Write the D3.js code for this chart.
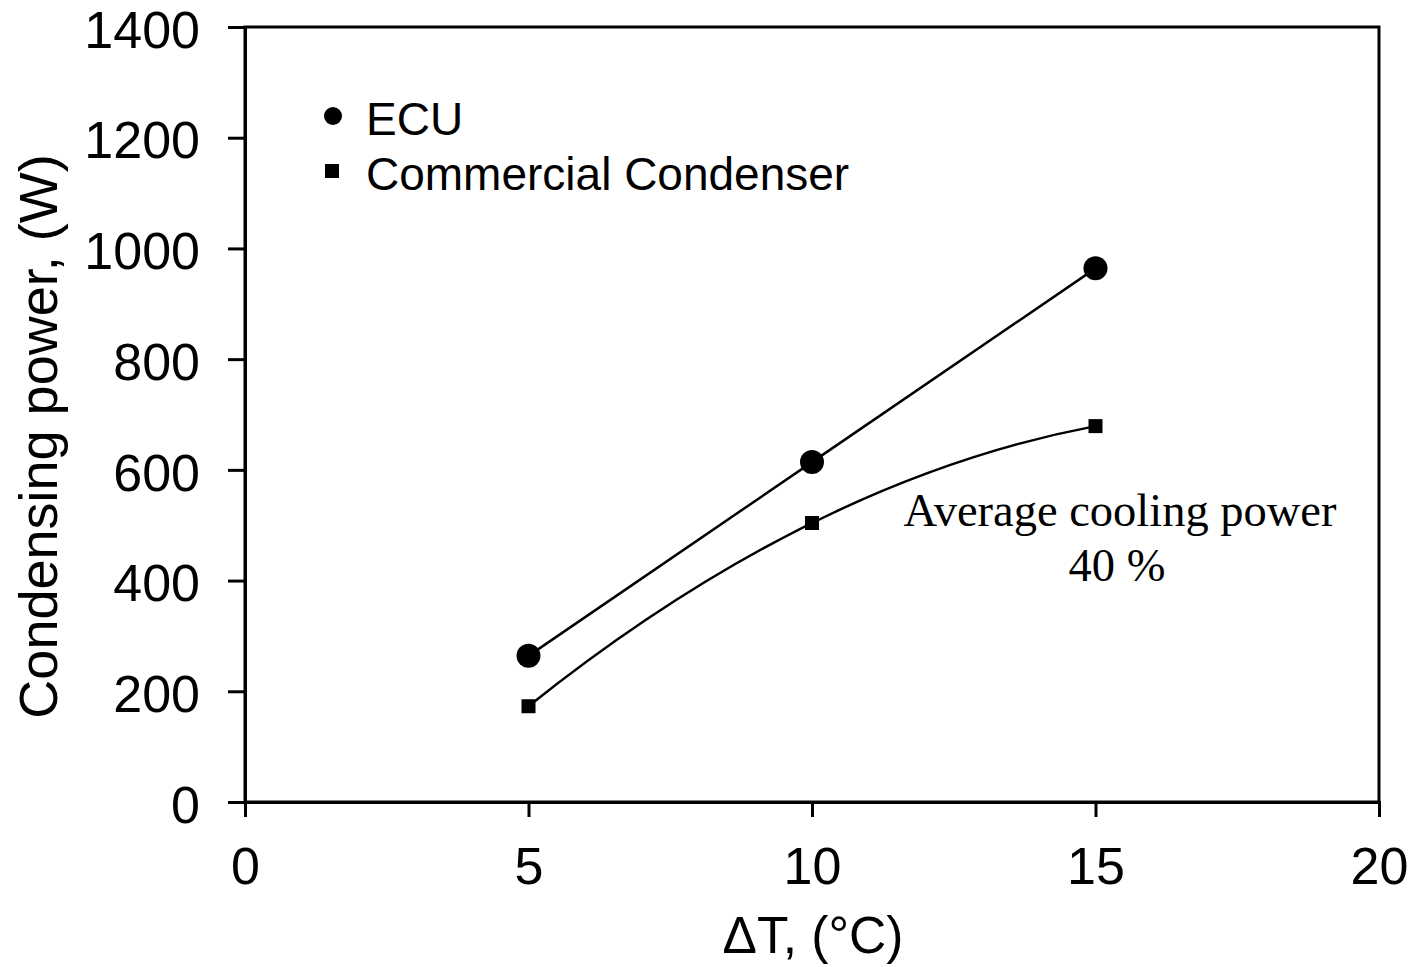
<!DOCTYPE html>
<html>
<head>
<meta charset="utf-8">
<script src="https://cdn.jsdelivr.net/npm/d3@7"></script>
<style>
  body { margin: 0; background: #fff; }
  svg { display: block; }
</style>
</head>
<body>
<svg id="chart" width="1412" height="967"></svg>
<script>
const SVG = d3.select('#chart');
const LEFT = 245;
const RIGHT = 1379;
const TOP = 27;
const BOTTOM = 802;

// DATA
const deltaT = [5, 10, 15];
const ecuPower = [264, 614, 964];
const commercialPower = [173, 504, 679];
const xTicks = [0, 5, 10, 15, 20];
const yTicks = [0, 200, 400, 600, 800, 1000, 1200, 1400];
const legendLabels = ['ECU', 'Commercial Condenser'];

const x = d3.scaleLinear().domain([0, 20]).range([LEFT, RIGHT]);
const y = d3.scaleLinear().domain([0, 1400]).range([BOTTOM, TOP]);

// frame
SVG.append('rect')
  .attr('x', LEFT).attr('y', TOP)
  .attr('width', RIGHT - LEFT).attr('height', BOTTOM - TOP)
  .attr('fill', 'none').attr('stroke', '#000').attr('stroke-width', 3);

// axes
const xAxis = SVG.append('g')
  .attr('transform', `translate(0,${BOTTOM})`)
  .call(d3.axisBottom(x).tickValues(xTicks).tickSize(15).tickPadding(30).tickFormat(d3.format('d')));
const yAxis = SVG.append('g')
  .attr('transform', `translate(${LEFT},0)`)
  .call(d3.axisLeft(y).tickValues(yTicks).tickSize(17).tickPadding(28).tickFormat(d3.format('d')));

[xAxis, yAxis].forEach(a => {
  a.select('.domain').attr('stroke-width', 3);
  a.selectAll('.tick line').attr('stroke-width', 3);
  a.selectAll('.tick text')
    .attr('font-family', 'Arial, "Liberation Sans", sans-serif')
    .attr('font-size', 52)
    .attr('fill', '#000');
});
xAxis.selectAll('.tick text').attr('dy', '0.72em');
yAxis.selectAll('.tick text').attr('dy', '0.39em');

// axis titles
SVG.append('text')
  .attr('x', (LEFT + RIGHT) / 2 + 1).attr('y', 953)
  .attr('text-anchor', 'middle')
  .attr('font-family', 'Arial, "Liberation Sans", sans-serif')
  .attr('font-size', 51.5)
  .text('ΔT, (°C)');

SVG.append('text')
  .attr('transform', `translate(57,${(TOP + BOTTOM) / 2 + 22}) rotate(-90)`)
  .attr('text-anchor', 'middle')
  .attr('font-family', 'Arial, "Liberation Sans", sans-serif')
  .attr('font-size', 54)
  .text('Condensing power, (W)');

// ECU trend line
const ecuPts = deltaT.map((d, i) => [x(d), y(ecuPower[i])]);
SVG.append('path')
  .attr('d', d3.line()(ecuPts))
  .attr('fill', 'none').attr('stroke', '#000').attr('stroke-width', 2.5);

// commercial trend curve (parabola through the three points)
const cp = deltaT.map((d, i) => [x(d), y(commercialPower[i])]);
const ctrl = [2 * cp[1][0] - (cp[0][0] + cp[2][0]) / 2, 2 * cp[1][1] - (cp[0][1] + cp[2][1]) / 2];
const curve = d3.path();
curve.moveTo(cp[0][0], cp[0][1]);
curve.quadraticCurveTo(ctrl[0], ctrl[1], cp[2][0], cp[2][1]);
SVG.append('path')
  .attr('d', curve.toString())
  .attr('fill', 'none').attr('stroke', '#000').attr('stroke-width', 2.5);

// markers
SVG.selectAll('circle.ecu')
  .data(deltaT)
  .join('circle')
  .attr('class', 'ecu')
  .attr('cx', d => x(d))
  .attr('cy', (d, i) => y(ecuPower[i]))
  .attr('r', 12)
  .attr('fill', '#000');

SVG.selectAll('rect.comm')
  .data(deltaT)
  .join('rect')
  .attr('class', 'comm')
  .attr('x', d => x(d) - 7)
  .attr('y', (d, i) => y(commercialPower[i]) - 7)
  .attr('width', 14).attr('height', 14)
  .attr('fill', '#000');

// legend
const legend = SVG.append('g').attr('font-family', 'Arial, "Liberation Sans", sans-serif').attr('font-size', 46);
legend.append('circle').attr('cx', 333).attr('cy', 116).attr('r', 9).attr('fill', '#000');
legend.append('rect').attr('x', 325).attr('y', 164).attr('width', 14).attr('height', 14).attr('fill', '#000');
legendLabels.forEach((t, i) => {
  legend.append('text').attr('x', 366).attr('y', 135 + i * 55).text(t);
});

// annotation
const note = SVG.append('g')
  .attr('font-family', '"Times New Roman", "Liberation Serif", serif')
  .attr('font-size', 46.5)
  .attr('text-anchor', 'middle');
note.append('text').attr('x', 1120).attr('y', 526).text('Average cooling power');
note.append('text').attr('x', 1117).attr('y', 581).text('40 %');
</script>
</body>
</html>
